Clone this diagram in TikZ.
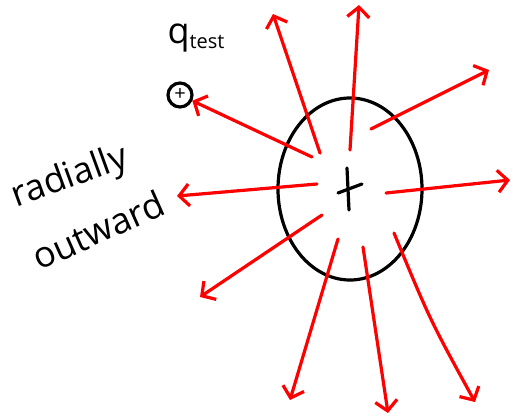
\documentclass[tikz,border=0pt]{standalone}
\usepackage{fontspec}
\setmainfont{Open Sans}
\usetikzlibrary{arrows.meta,shapes.geometric}
\tikzset{
  field/.style={draw=red, line width=3.2pt, line cap=round, -{Straight Barb[length=10pt,width=22pt,line width=3.2pt]}},
  ink/.style={draw=black, line width=3.2pt, line cap=round},
  hand/.style={font=\fontsize{36}{36}\selectfont, inner sep=0pt}
}
\begin{document}
\begin{tikzpicture}[x=1pt,y=-1pt]
\useasboundingbox (0,0) rectangle (515,416);
% charge
\node[ink, ellipse, minimum width=144pt, minimum height=182pt, inner sep=0pt] (ch) at (350,189) {};
\coordinate (pv1) at (347,168); \coordinate (pv2) at (349,210);
\coordinate (ph1) at (338,193); \coordinate (ph2) at (362,184);
\draw[ink] (pv1) -- (pv2);
\draw[ink] (ph1) -- (ph2);
% test charge
\node[ink, circle, minimum size=24pt, inner sep=0pt, font=\fontsize{20}{20}\selectfont] (qt) at (180,95) {+};
\node[font=\fontsize{36}{36}\selectfont, inner sep=0pt] (ql) at (196,38) {q\raisebox{-5pt}{\fontsize{20}{20}\selectfont test}};
% text
\node[hand, rotate=20] (rad) at (70,178) {radially};
\node[hand, rotate=24] (out) at (98,230) {outward};
% field lines
\coordinate (s1) at (320,153); \coordinate (t1) at (273,14);
\coordinate (s2) at (350,150); \coordinate (t2) at (359,5);
\coordinate (s3) at (371,129); \coordinate (t3) at (489,70);
\coordinate (s4) at (386,193); \coordinate (t4) at (510,180);
\coordinate (s5) at (317,184); \coordinate (t5) at (177,196);
\coordinate (s6) at (312,157);
\coordinate (s7) at (322,215); \coordinate (t7) at (200,297);
\coordinate (s8) at (338,239); \coordinate (t8) at (290,400);
\coordinate (s9) at (363,247); \coordinate (t9) at (388,413);
\coordinate (s10) at (394,233); \coordinate (t10) at (475,402);
\draw[field] (s1) -- (t1);
\draw[field] (s2) -- (t2);
\draw[field] (s3) -- (t3);
\draw[field] (s4) -- (t4);
\draw[field] (s5) -- (t5);
\draw[field] (s6) -- (qt.-25);
\draw[field] (s7) -- (t7);
\draw[field] (s8) -- (t8);
\draw[field] (s9) -- (t9);
\draw[field] (s10) .. controls (430,320) .. (t10);
\end{tikzpicture}
\end{document}
